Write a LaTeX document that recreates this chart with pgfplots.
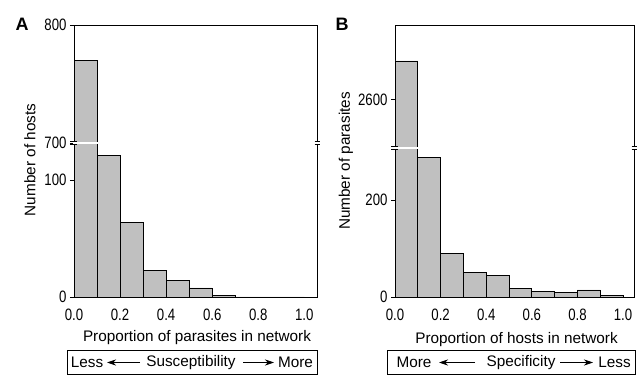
\documentclass[border=0pt]{standalone}
\usepackage{pgfplots}
\pgfplotsset{compat=1.18}
\usepackage{fontspec}
\setmainfont{Liberation Sans}
\newfontfamily\narrowfont{Liberation Sans}[FakeStretch=0.8]
\usetikzlibrary{arrows.meta}
\definecolor{barfill}{HTML}{C0C0C0}
\newcommand{\fs}{\narrowfont\fontsize{16.5}{18}\selectfont}
\newcommand{\fl}{\fontsize{15.3}{17}\selectfont}
\pgfplotsset{
  hist/.style={
    scale only axis, anchor=south west,
    xmin=0, xtick={0,0.2,0.4,0.6,0.8,1.0},
    xtick style={draw=none},
    ytick pos=left, tick align=outside, major tick length=4pt,
    ytick style={black, line width=0.8pt},
    axis line style={line width=0.9pt},
    ticklabel style={font=\fs},
    xticklabel style={yshift=-4pt},
  },
  bars/.style={ybar interval, fill=barfill, draw=black, line width=0.9pt, mark=none},
}
\begin{document}
\begin{tikzpicture}
\useasboundingbox (0,0) rectangle (643pt,375pt);
% ---------- Panel A ----------
\begin{axis}[hist, name=lowA, at={(74pt,78pt)}, width=243pt, height=154pt,
  xmax=1.055, ymin=0, ymax=131.6, ytick={0,100}, yticklabels={0,100},
  xticklabels={0.0,0.2,0.4,0.6,0.8,1.0}]
\addplot[bars] coordinates {(0,770) (0.1,121) (0.2,63.5) (0.3,22.8) (0.4,14.5) (0.5,7.7) (0.6,1.2) (0.7,0) (0.8,0) (0.9,0) (1.0,0)};
\end{axis}
\begin{axis}[hist, name=upA, at={(74pt,232pt)}, width=243pt, height=118pt,
  xmax=1.055, ymin=700, ymax=800, ytick={700,800}, yticklabels={700,800},
  xticklabels={}]
\addplot[bars] coordinates {(0,770) (0.1,121) (0.2,63.5) (0.3,22.8) (0.4,14.5) (0.5,7.7) (0.6,1.2) (0.7,0) (0.8,0) (0.9,0) (1.0,0)};
\end{axis}
% ---------- Panel B ----------
\begin{axis}[hist, name=lowB, at={(395pt,78pt)}, width=239pt, height=149pt,
  xmax=1.048, ymin=0, ymax=307, ytick={0,200}, yticklabels={0,200},
  xticklabels={0.0,0.2,0.4,0.6,0.8,1.0}]
\addplot[bars] coordinates {(0,2679) (0.1,287) (0.2,90) (0.3,50) (0.4,45) (0.5,18.5) (0.6,11) (0.7,9) (0.8,14.5) (0.9,4) (1.0,4)};
\end{axis}
\begin{axis}[hist, name=upB, at={(395pt,227pt)}, width=239pt, height=123pt,
  xmax=1.048, ymin=2500, ymax=2753, ytick={2600}, yticklabels={2600},
  xticklabels={}]
\addplot[bars] coordinates {(0,2679) (0.1,287) (0.2,90) (0.3,50) (0.4,45) (0.5,18.5) (0.6,11) (0.7,9) (0.8,14.5) (0.9,4) (1.0,4)};
\end{axis}
% ---------- breaks ----------
\foreach \ax in {upA,upB}{
  \draw[white, line width=2.4pt] ([xshift=-1.2pt]\ax.south west) -- ([xshift=1.2pt]\ax.south east);
  \foreach \s in {1.7pt,-1.7pt}{
    \draw[black, line width=0.8pt] ([xshift=-4pt,yshift=\s]\ax.south west) -- ([xshift=2.5pt,yshift=\s]\ax.south west);
    \draw[black, line width=0.8pt] ([xshift=-2.5pt,yshift=\s]\ax.south east) -- ([xshift=2.5pt,yshift=\s]\ax.south east);
  }
}
% ---------- labels ----------
\node[font=\fontsize{18}{19}\selectfont\bfseries] at (22pt,351pt) {A};
\node[font=\fontsize{18}{19}\selectfont\bfseries] at (342pt,351pt) {B};
\node[rotate=90, font=\fl] at (30pt,215pt) {Number of hosts};
\node[rotate=90, font=\fl] at (346pt,214pt) {Number of parasites};
\node[font=\fl] at (197pt,37pt) {Proportion of parasites in network};
\node[font=\fl] at (516.5pt,35pt) {Proportion of hosts in network};
% boxes
\draw[line width=0.9pt] (67pt,1pt) rectangle (317pt,25pt);
\node[font=\fl] at (87pt,12.5pt) {Less};
\node[font=\fl] at (191pt,12.5pt) {Susceptibility};
\node[font=\fl] at (295.5pt,12.5pt) {More};
\draw[line width=0.8pt, -{Stealth[length=9pt,width=6pt]}] (140pt,12.5pt) -- (107pt,12.5pt);
\draw[line width=0.8pt, -{Stealth[length=9pt,width=6pt]}] (243pt,12.5pt) -- (274pt,12.5pt);
\draw[line width=0.9pt] (387pt,1pt) rectangle (635pt,25pt);
\node[font=\fl] at (414pt,12.5pt) {More};
\node[font=\fl] at (521pt,12.5pt) {Specificity};
\node[font=\fl] at (614.5pt,12.5pt) {Less};
\draw[line width=0.8pt, -{Stealth[length=9pt,width=6pt]}] (475pt,12.5pt) -- (439pt,12.5pt);
\draw[line width=0.8pt, -{Stealth[length=9pt,width=6pt]}] (560pt,12.5pt) -- (593pt,12.5pt);
\end{tikzpicture}
\end{document}
